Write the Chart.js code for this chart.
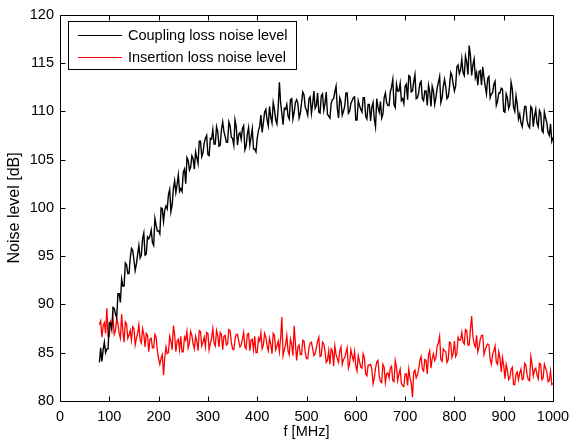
<!DOCTYPE html>
<html>
<head>
<meta charset="utf-8">
<script src="https://cdn.jsdelivr.net/npm/chart.js@4.4.0/dist/chart.umd.min.js"></script>
<style>
html,body{margin:0;padding:0;background:#fff;}
#wrap{width:569px;height:441px;position:relative;}
</style>
</head>
<body>
<div id="wrap"><canvas id="c" width="569" height="441"></canvas></div>
<script>
// Frequency grid [MHz]
const freq = [
  80,82.5,85,87.5,90,92.5,95,97.5,100,102.5,105,107.5,110,112.5,115,117.5,120,122.5,125,127.5,130,132.5,135,137.5,140,142.5,145,147.5,150,152.5,155,157.5,160,162.5,165,167.5,170,172.5,175,177.5,
  180,182.5,185,187.5,190,192.5,195,197.5,200,202.5,205,207.5,210,212.5,215,217.5,220,222.5,225,227.5,230,232.5,235,237.5,240,242.5,245,247.5,250,252.5,255,257.5,260,262.5,265,267.5,270,272.5,275,277.5,
  280,282.5,285,287.5,290,292.5,295,297.5,300,302.5,305,307.5,310,312.5,315,317.5,320,322.5,325,327.5,330,332.5,335,337.5,340,342.5,345,347.5,350,352.5,355,357.5,360,362.5,365,367.5,370,372.5,375,377.5,
  380,382.5,385,387.5,390,392.5,395,397.5,400,402.5,405,407.5,410,412.5,415,417.5,420,422.5,425,427.5,430,432.5,435,437.5,440,442.5,445,447.5,450,452.5,455,457.5,460,462.5,465,467.5,470,472.5,475,477.5,
  480,482.5,485,487.5,490,492.5,495,497.5,500,502.5,505,507.5,510,512.5,515,517.5,520,522.5,525,527.5,530,532.5,535,537.5,540,542.5,545,547.5,550,552.5,555,557.5,560,562.5,565,567.5,570,572.5,575,577.5,
  580,582.5,585,587.5,590,592.5,595,597.5,600,602.5,605,607.5,610,612.5,615,617.5,620,622.5,625,627.5,630,632.5,635,637.5,640,642.5,645,647.5,650,652.5,655,657.5,660,662.5,665,667.5,670,672.5,675,677.5,
  680,682.5,685,687.5,690,692.5,695,697.5,700,702.5,705,707.5,710,712.5,715,717.5,720,722.5,725,727.5,730,732.5,735,737.5,740,742.5,745,747.5,750,752.5,755,757.5,760,762.5,765,767.5,770,772.5,775,777.5,
  780,782.5,785,787.5,790,792.5,795,797.5,800,802.5,805,807.5,810,812.5,815,817.5,820,822.5,825,827.5,830,832.5,835,837.5,840,842.5,845,847.5,850,852.5,855,857.5,860,862.5,865,867.5,870,872.5,875,877.5,
  880,882.5,885,887.5,890,892.5,895,897.5,900,902.5,905,907.5,910,912.5,915,917.5,920,922.5,925,927.5,930,932.5,935,937.5,940,942.5,945,947.5,950,952.5,955,957.5,960,962.5,965,967.5,970,972.5,975,977.5,
  980,982.5,985,987.5,990,992.5,995,997.5,1000
];
// Coupling loss noise level [dB] (black)
const couplingLoss = [
  84.0,85.5,84.1,85.3,86.1,85.0,85.4,85.4,88.1,88.0,87.4,89.7,89.6,89.0,88.6,91.1,91.1,90.2,92.6,91.9,91.9,94.3,94.1,93.2,93.2,94.8,95.8,95.6,94.6,93.5,94.2,95.2,96.1,94.8,95.1,96.8,97.4,95.1,95.2,97.0,
  96.8,97.1,97.7,96.4,96.1,98.9,98.2,97.6,97.6,97.3,100.0,99.9,98.6,99.8,100.2,99.9,101.4,101.9,99.6,100.3,102.0,102.8,101.6,102.4,103.4,101.7,102.0,101.7,103.7,104.0,102.5,105.2,104.9,103.9,104.2,105.4,105.1,104.0,105.8,105.2,
  104.6,106.9,106.9,105.3,105.7,106.7,107.2,107.5,105.5,105.4,107.2,107.1,108.1,106.6,106.6,108.4,107.9,106.4,106.5,108.1,108.9,107.9,107.4,106.8,106.8,108.9,108.5,107.3,107.2,106.5,109.1,108.4,106.5,107.6,107.8,107.1,108.2,108.5,106.0,106.4,
  107.6,108.3,106.5,107.3,108.2,106.1,106.1,105.8,107.2,108.0,108.4,109.6,107.8,108.8,109.9,110.2,109.1,108.5,110.5,109.4,108.8,110.9,110.2,109.1,108.7,110.3,113.0,110.9,109.8,108.6,110.3,110.2,110.7,109.5,109.2,111.2,111.3,109.2,109.9,110.9,
  111.2,110.8,109.3,109.8,110.9,112.0,111.7,110.4,110.1,109.6,111.3,111.5,109.8,110.8,112.1,110.3,110.6,111.9,109.9,109.8,111.6,111.8,110.1,110.8,112.0,109.7,109.5,109.3,110.8,111.2,111.3,112.0,112.6,110.3,109.3,111.4,111.0,109.6,110.0,110.5,
  111.9,111.9,109.8,110.0,110.8,111.1,111.4,111.5,109.1,109.1,111.1,110.6,110.2,109.9,111.4,111.4,109.5,109.2,110.7,110.7,109.0,110.4,110.9,109.2,108.4,111.3,110.4,109.9,111.0,109.3,109.7,111.4,111.9,110.9,110.6,110.6,112.0,112.5,113.3,110.7,
  110.4,112.8,112.1,112.1,112.9,111.1,111.3,110.8,112.6,112.8,111.2,113.7,113.6,112.0,112.1,113.1,113.8,111.3,111.4,111.9,112.9,113.1,111.3,111.1,112.1,112.1,110.6,112.7,112.0,110.5,112.6,112.1,110.7,111.4,112.4,113.0,113.6,110.9,111.4,112.6,
  113.3,112.5,111.3,111.5,112.5,114.0,113.7,112.8,112.1,112.6,114.6,114.8,113.9,114.3,115.4,114.0,113.7,115.7,115.1,113.8,116.8,115.8,113.7,114.8,115.4,113.5,114.0,112.7,114.1,114.2,112.7,114.6,113.5,112.6,111.8,113.4,113.6,111.4,111.8,111.9,
  112.8,113.1,110.6,111.0,111.9,111.9,112.4,112.3,110.0,109.9,111.8,111.4,110.3,110.7,113.0,112.3,110.4,110.0,111.6,110.7,109.2,109.7,108.8,108.4,109.4,110.5,110.5,109.0,108.5,108.3,110.5,110.3,108.4,109.5,110.2,108.8,108.4,110.1,109.8,108.0,
  107.8,109.9,109.3,108.8,107.8,107.5,108.7,106.9,107.3
];
// Insertion loss noise level [dB] (red)
const insertionLoss = [
  87.9,88.3,86.6,87.8,88.1,87.0,89.6,86.7,86.7,88.2,87.8,88.7,86.9,87.3,88.5,88.0,87.0,86.5,89.0,87.2,86.1,88.2,88.0,86.5,86.8,87.3,86.3,87.7,87.5,85.8,86.5,87.0,87.9,86.3,86.0,87.5,86.9,85.6,87.0,86.8,
  85.1,86.4,86.5,85.5,85.5,86.9,86.6,85.2,84.4,83.8,84.4,84.8,82.7,84.5,85.6,84.9,85.0,86.7,86.2,85.3,87.8,86.9,85.1,86.2,86.4,85.3,86.7,85.1,85.1,86.6,86.3,87.2,85.5,86.0,87.2,86.8,85.9,85.4,86.7,86.2,
  85.2,87.3,87.2,85.7,86.1,86.6,85.6,87.1,87.0,85.3,86.0,86.5,87.5,86.0,85.7,87.3,86.8,85.6,87.1,86.9,85.3,86.7,86.8,85.8,85.9,87.4,87.3,86.1,85.4,85.3,86.4,86.9,86.9,86.2,85.6,85.8,86.4,87.1,85.6,85.4,
  86.9,87.0,85.2,86.3,86.4,85.3,86.7,85.0,85.0,86.5,86.2,87.1,85.4,85.8,87.0,86.6,85.7,85.2,86.5,85.9,84.9,87.0,86.8,85.3,85.7,86.2,85.1,86.5,88.7,84.7,85.3,85.8,86.8,85.2,84.8,86.4,85.9,84.7,87.8,85.9,
  84.2,85.6,85.8,84.8,84.8,86.3,86.2,85.0,84.4,84.4,85.5,86.0,86.1,85.4,84.7,84.9,85.5,86.2,86.6,84.6,84.7,86.1,85.9,85.2,84.0,84.2,85.2,83.8,85.4,85.2,83.6,85.7,84.8,84.4,84.0,85.2,85.6,83.8,84.3,84.5,
  85.0,85.5,83.4,83.9,85.3,84.7,84.2,85.1,83.6,83.1,84.7,84.1,83.5,83.4,84.9,84.5,82.8,82.6,83.7,83.7,83.8,83.3,81.8,82.4,83.4,84.0,84.2,82.6,82.0,81.9,83.8,83.5,81.9,82.8,82.9,82.4,83.4,83.6,82.1,82.0,
  84.2,83.5,82.1,82.8,83.3,81.8,81.6,81.5,82.8,82.8,81.6,83.3,82.4,81.8,80.4,83.0,83.2,82.4,82.7,83.3,84.2,84.6,83.3,83.1,84.3,84.2,82.8,84.8,85.2,83.4,84.4,84.9,84.2,84.5,85.7,86.0,86.7,84.3,84.1,85.4,
  85.2,85.1,84.0,84.3,86.1,86.0,84.5,84.9,86.2,84.6,84.9,86.6,86.3,86.3,87.1,86.1,85.9,87.4,87.3,85.8,85.8,87.4,88.8,86.7,85.9,85.6,86.8,85.1,85.6,86.4,86.8,86.8,84.8,85.3,85.7,85.9,85.8,84.3,83.8,84.8,
  85.2,85.7,84.0,83.8,85.1,84.4,83.0,84.5,83.7,82.3,83.8,83.2,82.2,82.4,83.3,83.5,81.7,81.7,82.8,83.0,82.2,82.9,83.3,82.2,82.3,83.9,83.7,82.7,82.2,82.1,84.6,83.8,82.6,83.2,83.4,82.7,82.3,83.9,83.8,82.2,
  82.4,83.8,83.4,83.0,82.0,82.1,83.1,81.7,81.8
];
const seriesNames = ['Coupling loss noise level', 'Insertion loss noise level'];
const seriesColors = ['#000000', '#ff0000'];
const xTickValues = [0,100,200,300,400,500,600,700,800,900,1000];
const yTickValues = [80,85,90,95,100,105,110,115,120];
const xTitle = 'f [MHz]';
const yTitle = 'Noise level [dB]';

const FONT = 'Arial, "Liberation Sans", sans-serif';

const matlabFrame = {
  id: 'matlabFrame',
  afterDatasetsDraw(chart) {
    const {ctx, chartArea: a, scales: {x, y}} = chart;
    ctx.save();
    ctx.strokeStyle = '#000';
    ctx.lineWidth = 1;
    ctx.beginPath();
    const L = Math.round(a.left) + 0.5, R = Math.round(a.right) + 0.5;
    const T = Math.round(a.top) + 0.5, B = Math.round(a.bottom) + 0.5;
    ctx.rect(L, T, R - L, B - T);
    const tl = 5;
    x.ticks.forEach(t => {
      const px = Math.round(x.getPixelForValue(t.value)) + 0.5;
      ctx.moveTo(px, B); ctx.lineTo(px, B - tl);
      ctx.moveTo(px, T); ctx.lineTo(px, T + tl);
    });
    y.ticks.forEach(t => {
      const py = Math.round(y.getPixelForValue(t.value)) + 0.5;
      ctx.moveTo(L, py); ctx.lineTo(L + tl, py);
      ctx.moveTo(R, py); ctx.lineTo(R - tl, py);
    });
    ctx.stroke();

    // legend box (MATLAB style, upper-left inside)
    const bx = 68.5, by = 21.5, bw = 228, bh = 48;
    ctx.fillStyle = '#fff';
    ctx.fillRect(bx, by, bw, bh);
    ctx.strokeRect(bx, by, bw, bh);
    ctx.font = '14.5px ' + FONT;
    ctx.textBaseline = 'middle';
    ctx.textAlign = 'left';
    const rows = [35.5, 57.5];
    chart.data.datasets.forEach((ds, i) => {
      ctx.strokeStyle = ds.borderColor;
      ctx.lineWidth = 1;
      ctx.beginPath();
      ctx.moveTo(78, rows[i]); ctx.lineTo(122, rows[i]);
      ctx.stroke();
      ctx.fillStyle = '#000';
      ctx.fillText(ds.label, 128, rows[i]);
    });
    ctx.restore();
  }
};

new Chart(document.getElementById('c'), {
  type: 'line',
  data: {
    datasets: [
      {
        label: seriesNames[0],
        data: freq.map((f, i) => ({x: f, y: couplingLoss[i]})),
        borderColor: seriesColors[0],
        borderWidth: 1.4,
        pointRadius: 0,
        tension: 0,
        fill: false
      },
      {
        label: seriesNames[1],
        data: freq.map((f, i) => ({x: f, y: insertionLoss[i]})),
        borderColor: seriesColors[1],
        borderWidth: 1.3,
        pointRadius: 0,
        tension: 0,
        fill: false
      }
    ]
  },
  options: {
    responsive: false,
    animation: false,
    events: [],
    layout: {padding: {top: 13, right: 16, left: 0, bottom: 0}},
    plugins: {legend: {display: false}, tooltip: {enabled: false}},
    scales: {
      x: {
        type: 'linear',
        min: 0, max: 1000,
        afterBuildTicks: s => { s.ticks = xTickValues.map(v => ({value: v})); },
        afterFit: s => { s.height = 40; s.paddingLeft = 0; s.paddingRight = 0; },
        grid: {display: false, drawTicks: false},
        border: {display: false},
        ticks: {color: '#000', font: {family: FONT, size: 14.5}, padding: 7, maxRotation: 0, autoSkip: false,
                callback: v => String(v)},
        title: {display: true, text: xTitle, color: '#000', font: {family: FONT, size: 14.5}, padding: {top: 0, bottom: 0}}
      },
      y: {
        type: 'linear',
        min: 80, max: 120,
        afterBuildTicks: s => { s.ticks = yTickValues.map(v => ({value: v})); },
        afterFit: s => { s.width = 60; },
        grid: {display: false, drawTicks: false},
        border: {display: false},
        ticks: {color: '#000', font: {family: FONT, size: 14.5}, padding: 6, autoSkip: false,
                callback: v => String(v)},
        title: {display: true, text: yTitle, color: '#000', font: {family: FONT, size: 16}, padding: {top: 5, bottom: 0}}
      }
    }
  },
  plugins: [matlabFrame]
});
</script>
</body>
</html>
